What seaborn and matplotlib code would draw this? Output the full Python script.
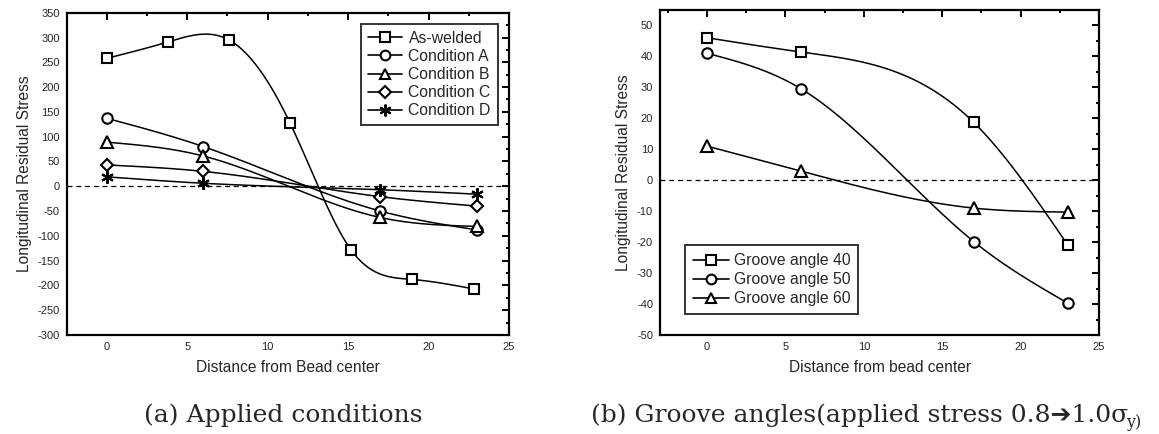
import numpy as np
import matplotlib
matplotlib.use('Agg')
import matplotlib.pyplot as plt
from matplotlib.lines import Line2D
from matplotlib.ticker import MultipleLocator
import seaborn as sns

# Panel (a): applied conditions
aswelded_x = [0, 3.8, 7.6, 11.4, 15.2, 19.0, 22.8]
aswelded_y = [258, 291, 295, 127, -129, -188, -207]
cond_x = [0, 6, 17, 23]
cond_a = [137, 80, -50, -88]
cond_b = [89, 61, -63, -81]
cond_c = [43, 30, -21, -40]
cond_d = [19, 6, -7, -16]

# Panel (b): groove angles
groove_x = [0, 6, 17, 23]
groove_40 = [46, 41.4, 18.7, -20.9]
groove_50 = [41, 29.5, -19.8, -39.7]
groove_60 = [11, 2.9, -9, -10.3]


# natural cubic spline, used only to draw the smooth connecting line
def spline(x, y, n=200):
    x = np.asarray(x, float)
    y = np.asarray(y, float)
    k = len(x)
    h = np.diff(x)
    A = np.zeros((k, k))
    r = np.zeros(k)
    A[0, 0] = A[-1, -1] = 1
    for i in range(1, k - 1):
        A[i, i - 1] = h[i - 1]
        A[i, i] = 2 * (h[i - 1] + h[i])
        A[i, i + 1] = h[i]
        r[i] = 3 * ((y[i + 1] - y[i]) / h[i] - (y[i] - y[i - 1]) / h[i - 1])
    c = np.linalg.solve(A, r)
    xs = np.linspace(x[0], x[-1], n)
    idx = np.clip(np.searchsorted(x, xs) - 1, 0, k - 2)
    dx = xs - x[idx]
    b = (y[1:] - y[:-1]) / h - h * (2 * c[:-1] + c[1:]) / 3
    d = (c[1:] - c[:-1]) / (3 * h)
    ys = y[idx] + b[idx] * dx + c[idx] * dx ** 2 + d[idx] * dx ** 3
    return xs, ys


def draw_series(ax, x, y, marker, ms=7.5):
    xs, ys = spline(x, y)
    sns.lineplot(x=xs, y=ys, ax=ax, color='black', lw=1.1, sort=False)
    ax.plot(x, y, ls='none', marker=marker, ms=ms, mfc='white',
            mec='black', mew=1.5, zorder=5)
    return Line2D([], [], color='black', lw=1.2, marker=marker, ms=ms - 0.5,
                  mfc='white', mec='black', mew=1.5)


def style_axes(ax):
    for s in ax.spines.values():
        s.set_linewidth(1.6)
        s.set_color('black')
    ax.tick_params(which='both', direction='in', top=True, right=True,
                   labelsize=8, color='black', width=1.4, pad=5)
    ax.tick_params(which='major', length=5)
    ax.tick_params(which='minor', length=2.5)
    ax.xaxis.set_major_locator(MultipleLocator(5))
    ax.xaxis.set_minor_locator(MultipleLocator(2.5))
    ax.axhline(0, color='black', ls='--', lw=0.9, dashes=(4, 3), zorder=1)
    ax.set_ylabel('Longitudinal Residual Stress', fontsize=11.2, labelpad=4)
    ax.grid(False)


sns.set_theme(style='white')
plt.rcParams['font.family'] = ['Liberation Sans', 'DejaVu Sans']
plt.rcParams['axes.unicode_minus'] = False

fig = plt.figure(figsize=(11.59, 4.34), dpi=100)
ax1 = fig.add_axes([0.0575, 0.2281, 0.3816, 0.7426])
ax2 = fig.add_axes([0.5695, 0.2281, 0.3788, 0.749])

h = []
h.append(draw_series(ax1, aswelded_x, aswelded_y, 's', ms=7))
h.append(draw_series(ax1, cond_x, cond_a, 'o'))
h.append(draw_series(ax1, cond_x, cond_b, '^', ms=8))
h.append(draw_series(ax1, cond_x, cond_c, 'D', ms=6.5))
h.append(draw_series(ax1, cond_x, cond_d, (6, 2, 0), ms=9))
style_axes(ax1)
ax1.set_xlim(-2.5, 25)
ax1.set_ylim(-300, 350)
ax1.yaxis.set_major_locator(MultipleLocator(50))
ax1.yaxis.set_minor_locator(MultipleLocator(25))
ax1.set_xlabel('Distance from Bead center', fontsize=11.2, labelpad=6)
leg1 = ax1.legend(h, ['As-welded', 'Condition A', 'Condition B',
                      'Condition C', 'Condition D'],
                  loc='upper right', fontsize=11.3, frameon=True,
                  fancybox=False, edgecolor='black', borderaxespad=0.7,
                  handlelength=2.2, labelspacing=0.2, handletextpad=0.4,
                  borderpad=0.45)
leg1.get_frame().set_linewidth(1.4)

h2 = []
h2.append(draw_series(ax2, groove_x, groove_40, 's', ms=7))
h2.append(draw_series(ax2, groove_x, groove_50, 'o'))
h2.append(draw_series(ax2, groove_x, groove_60, '^', ms=8))
style_axes(ax2)
ax2.set_xlim(-3, 25)
ax2.set_ylim(-50, 55)
ax2.yaxis.set_major_locator(MultipleLocator(10))
ax2.yaxis.set_minor_locator(MultipleLocator(5))
ax2.set_xlabel('Distance from bead center', fontsize=11.2, labelpad=6)
leg2 = ax2.legend(h2, ['Groove angle 40', 'Groove angle 50',
                       'Groove angle 60'],
                  loc='lower left', bbox_to_anchor=(0.057, 0.0645),
                  fontsize=11.3, frameon=True, fancybox=False,
                  edgecolor='black', borderaxespad=0, handlelength=2.3,
                  labelspacing=0.25, handletextpad=0.3, borderpad=0.5)
leg2.get_frame().set_linewidth(1.4)

# captions under the panels
cap_font = ['DejaVu Serif', 'DejaVu Sans']
fig.text(0.2442, 0.044, '(a) Applied conditions', ha='center', va='center',
         fontsize=18, family=cap_font)
tb = fig.text(0.51, 0.044, '(b) Groove angles(applied stress 0.8\u27941.0\u03c3',
              ha='left', va='center', fontsize=18, family=cap_font)
renderer = fig.canvas.get_renderer()
bb = tb.get_window_extent(renderer)
fig.text(bb.x1 / fig.bbox.width - 0.002, 0.027, 'y)', ha='left',
         va='center', fontsize=11.5, family=cap_font)

fig.savefig('out.png', dpi=100)
